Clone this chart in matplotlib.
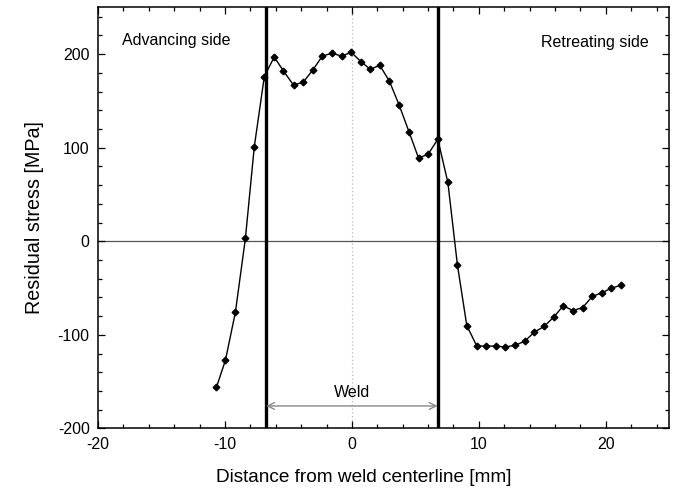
import matplotlib

matplotlib.use("Agg")
import matplotlib.pyplot as plt
from matplotlib.ticker import MultipleLocator

plt.rcParams["font.family"] = ["Liberation Sans", "DejaVu Sans"]
plt.rcParams["axes.unicode_minus"] = False

# measured residual stress profile across the weld
distance_mm = [
    -10.67, -9.96, -9.18, -8.39, -7.69, -6.90, -6.12, -5.39, -4.60, -3.84,
    -3.08, -2.33, -1.57, -0.81, -0.05, 0.71, 1.44, 2.20, 2.96, 3.71,
    4.50, 5.25, 6.00, 6.77, 7.56, 8.31, 9.05, 9.84, 10.60, 11.36,
    12.10, 12.86, 13.60, 14.38, 15.14, 15.90, 16.65, 17.41, 18.17, 18.93,
    19.69, 20.45, 21.20,
]
stress_mpa = [
    -156, -127, -76, 3, 101, 176, 197, 182, 167, 170,
    183, 198, 201, 198, 202, 192, 184, 188, 171, 146,
    117, 89, 93, 109, 63, -25, -90, -112, -112, -112,
    -113, -111, -107, -97, -91, -81, -69, -74, -71, -59,
    -55, -50, -47,
]

weld_edges_mm = [-6.75, 6.75]

fig = plt.figure(figsize=(6.76, 4.93), dpi=100)
ax = fig.add_axes([0.145, 0.131, 0.845, 0.854])

ax.axhline(0, color="#555555", linewidth=0.9, zorder=1)
ax.axvline(0, color="#bbbbbb", linewidth=0.9, linestyle=(0, (1, 2)), zorder=1)
for edge in weld_edges_mm:
    ax.axvline(edge, color="black", linewidth=2.4, zorder=2)

ax.plot(distance_mm, stress_mpa, color="black", linewidth=1.0,
        marker="D", markersize=3.4, zorder=3)

ax.annotate("", xy=(weld_edges_mm[0], -176), xytext=(weld_edges_mm[1], -176),
            arrowprops=dict(arrowstyle="<->", color="#888888", linewidth=1.0,
                            shrinkA=0, shrinkB=0, mutation_scale=12))
ax.text(0, -162, "Weld", ha="center", va="center", fontsize=11.5)
ax.text(-18.15, 215, "Advancing side", ha="left", va="center", fontsize=11.5)
ax.text(23.4, 213, "Retreating side", ha="right", va="center", fontsize=11.5)

ax.set_xlim(-20, 25)
ax.set_ylim(-200, 250)
ax.xaxis.set_major_locator(MultipleLocator(10))
ax.xaxis.set_minor_locator(MultipleLocator(2))
ax.yaxis.set_major_locator(MultipleLocator(100))
ax.yaxis.set_minor_locator(MultipleLocator(20))
ax.tick_params(which="both", direction="in", top=True, right=True,
               labelsize=11.5, width=0.9)
ax.tick_params(which="major", length=5, pad=6)
ax.tick_params(which="minor", length=3)
for spine in ax.spines.values():
    spine.set_linewidth(1.1)

ax.set_xlabel("Distance from weld centerline [mm]", fontsize=13.7)
ax.set_ylabel("Residual stress [MPa]", fontsize=14.2)
ax.xaxis.set_label_coords(0.466, -0.097)
ax.yaxis.set_label_coords(-0.095, 0.5)

fig.savefig("out.png", dpi=100)
plt.close(fig)
